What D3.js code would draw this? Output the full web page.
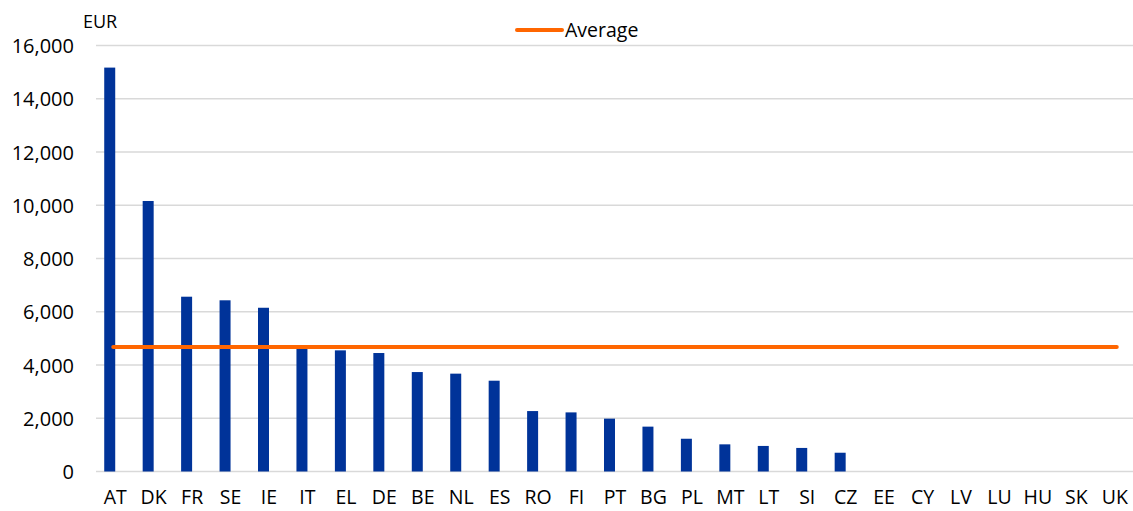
<!DOCTYPE html>
<html><head><meta charset="utf-8">
<script src="https://cdn.jsdelivr.net/npm/d3@7"></script>
<style>
body{margin:0;background:#fff;}
text{font-family:"Open Sans",sans-serif;fill:#000;}
</style></head>
<body><svg id="chart" width="1133" height="511"></svg>
<script>
const categories = ["AT","DK","FR","SE","IE","IT","EL","DE","BE","NL","ES","RO","FI","PT","BG","PL","MT","LT","SI","CZ","EE","CY","LV","LU","HU","SK","UK"];
const values = [15170,10160,6565,6430,6150,4750,4550,4450,3735,3675,3410,2270,2220,1985,1685,1230,1020,960,885,705,0,0,0,0,0,0,0];
const averageValue = 4680;
const yTicks = [0,2000,4000,6000,8000,10000,12000,14000,16000];
const unitLabel = "EUR";
const legendLabel = "Average";

const svg = d3.select("#chart");
const x = d3.scaleBand().domain(categories).range([96,1134]).padding(0);
const x1 = d3.scaleBand().domain(["value","average"]).range([0,x.bandwidth()]).paddingInner(0).paddingOuter(0.748);
const y = d3.scaleLinear().domain([0,16000]).range([471.5,45.5]);

// gridlines
svg.append("g").selectAll("line").data(yTicks).join("line")
  .attr("x1",96).attr("x2",1133).attr("y1",d=>y(d)).attr("y2",d=>y(d))
  .attr("stroke","#d9d9d9").attr("stroke-width",1.5);

// y axis labels
const yAxis = svg.append("g").attr("transform","translate(74,0)")
  .call(d3.axisLeft(y).tickValues(yTicks).tickSize(0).tickPadding(0).tickFormat(d3.format(",")));
yAxis.select(".domain").remove();
yAxis.selectAll("text").style("font-size","20px").attr("dy","0.35em");

// x axis labels
const xAxis = svg.append("g").attr("transform","translate(0,480)")
  .call(d3.axisBottom(x).tickSize(0).tickPadding(0));
xAxis.select(".domain").remove();
xAxis.selectAll("text").style("font-size","19.5px").attr("dy","0.71em").attr("y",10);

// bars
svg.append("g").selectAll("rect").data(categories.map((c,i)=>({c,v:values[i]})).filter(d=>d.v>0)).join("rect")
  .attr("x",d=>x(d.c)+x1("value")).attr("width",x1.bandwidth())
  .attr("y",d=>y(d.v)).attr("height",d=>y(0)-y(d.v))
  .attr("fill","#003399");

// average line
svg.append("line")
  .attr("x1",x(categories[0])+x.bandwidth()/2-2).attr("x2",x(categories[categories.length-1])+x.bandwidth()/2+2)
  .attr("y1",y(averageValue)).attr("y2",y(averageValue))
  .attr("stroke","#ff6600").attr("stroke-width",4).attr("stroke-linecap","round");

// unit label
svg.append("text").attr("x",83).attr("y",28).style("font-size","18px").text(unitLabel);

// legend
svg.append("line").attr("x1",517).attr("x2",562).attr("y1",30).attr("y2",30)
  .attr("stroke","#ff6600").attr("stroke-width",4).attr("stroke-linecap","round");
svg.append("text").attr("x",565).attr("y",30).attr("dy","0.35em").style("font-size","19.5px").text(legendLabel);
</script></body></html>
